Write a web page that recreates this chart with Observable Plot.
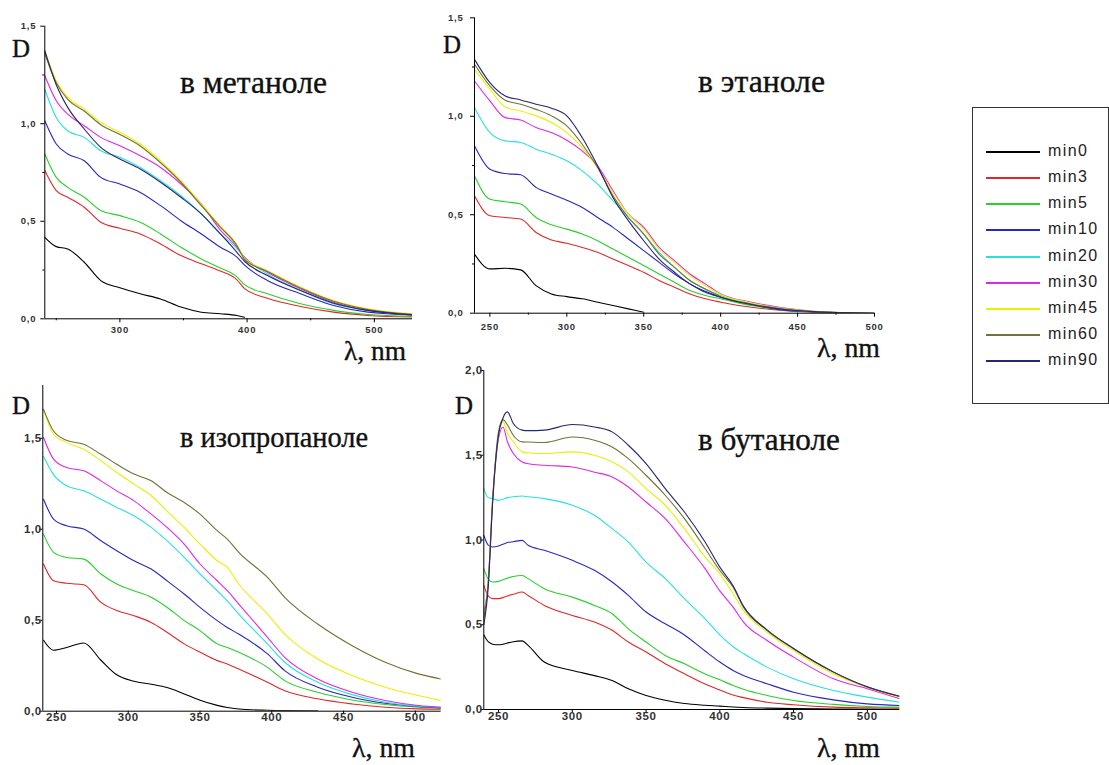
<!DOCTYPE html>
<html><head><meta charset="utf-8">
<script src="https://cdn.jsdelivr.net/npm/d3@7"></script>
<script src="https://cdn.jsdelivr.net/npm/@observablehq/plot@0.6"></script>
<style>
body{margin:0;background:#fff;}
#fig{position:relative;width:1109px;height:765px;overflow:hidden;background:#fff;}
#legend{position:absolute;box-sizing:border-box;border:1.5px solid #333;background:#fff;}
.lrow{position:absolute;left:0;right:0;height:0;}
.lline{position:absolute;height:2px;top:-1px;}
.ltxt{position:absolute;font-family:"Liberation Sans",Arial,sans-serif;font-size:16px;letter-spacing:1.4px;color:#222;line-height:1;transform:translateY(-55%);white-space:nowrap;}
</style></head><body><div id="fig"></div>
<script>
// ---------------- data ----------------
const series = ["min0","min3","min5","min10","min20","min30","min45","min60","min90"];
const colors = ["#000000","#e02828","#28d028","#2828c0","#28e0e0","#e028e0","#eeee00","#727232","#262672"];

// в метаноле
const lamMet = [241,250,259,272,285,300,316,332,348,364,379,392,398,416,442,468,495,530];
const dMet = [
  [0.418,0.37,0.358,0.29,0.196,0.159,0.128,0.102,0.06,0.034,0.026,0.017,0.008,null,null,null,null,null],
  [0.76,0.657,0.623,0.572,0.495,0.464,0.435,0.384,0.324,0.282,0.245,0.20,0.155,0.105,0.063,0.034,0.017,0.009],
  [0.845,0.725,0.674,0.623,0.555,0.529,0.495,0.435,0.367,0.307,0.26,0.215,0.175,0.128,0.077,0.043,0.022,0.012],
  [1.015,0.896,0.845,0.81,0.725,0.691,0.648,0.58,0.503,0.435,0.367,0.316,0.275,0.196,0.128,0.068,0.034,0.02],
  [1.177,1.032,0.964,0.93,0.862,0.828,0.776,0.708,0.631,0.538,0.435,0.36,0.315,0.23,0.145,0.077,0.043,0.02],
  [1.246,1.118,1.049,0.99,0.93,0.887,0.836,0.776,0.691,0.589,0.455,0.367,0.315,0.239,0.154,0.085,0.043,0.02],
  [1.374,1.22,1.135,1.075,1.007,0.956,0.896,0.81,0.708,0.589,0.475,0.38,0.31,0.247,0.162,0.094,0.051,0.025],
  [1.36,1.21,1.125,1.065,0.995,0.945,0.886,0.80,0.70,0.58,0.47,0.375,0.305,0.243,0.158,0.09,0.048,0.023],
  [1.374,1.20,1.084,0.973,0.879,0.819,0.768,0.70,0.623,0.538,0.435,0.341,0.295,0.222,0.145,0.08,0.043,0.02]
];

// в этаноле
const lamEth = [240,250,260,270,280,290,300,310,320,330,340,350,360,370,380,390,400,420,440,460,480,500];
const dEth = [
  [0.30,0.225,0.228,0.22,0.14,0.098,0.084,0.073,0.056,0.039,0.022,0.005,null,null,null,null,null,null,null,null,null,null],
  [0.596,0.495,0.486,0.478,0.41,0.372,0.355,0.334,0.309,0.275,0.242,0.208,0.166,0.132,0.098,0.073,0.056,0.03,0.014,0.005,0.002,null],
  [0.698,0.579,0.566,0.554,0.486,0.449,0.427,0.402,0.368,0.326,0.284,0.242,0.199,0.157,0.115,0.09,0.073,0.039,0.017,0.007,0.002,null],
  [0.85,0.731,0.709,0.703,0.639,0.605,0.574,0.537,0.486,0.436,0.377,0.318,0.258,0.199,0.149,0.106,0.081,0.044,0.017,0.007,0.002,0],
  [1.044,0.917,0.875,0.867,0.833,0.807,0.774,0.723,0.655,0.571,0.486,0.402,0.309,0.233,0.166,0.123,0.09,0.047,0.022,0.008,0.003,0],
  [1.179,1.078,0.993,0.981,0.943,0.917,0.878,0.824,0.748,0.622,0.503,0.436,0.334,0.267,0.199,0.149,0.098,0.056,0.027,0.01,0.003,0],
  [1.238,1.137,1.047,1.027,1.002,0.968,0.917,0.841,0.74,0.613,0.503,0.427,0.326,0.258,0.191,0.14,0.095,0.052,0.025,0.01,0.003,0],
  [1.264,1.154,1.081,1.061,1.035,1.002,0.951,0.858,0.74,0.596,0.486,0.402,0.30,0.233,0.166,0.123,0.084,0.047,0.022,0.008,0.003,0],
  [1.289,1.171,1.103,1.083,1.061,1.041,1.002,0.892,0.748,0.588,0.47,0.368,0.275,0.208,0.149,0.111,0.081,0.044,0.02,0.008,0.003,0]
];

// в изопропаноле (min90 not measured)
const lamIso = [241,248,257,269,281,292,304,316,327,339,350,362,369,377,397,409,432,456,479,502,518];
const dIso = [
  [0.39,0.335,0.35,0.375,0.28,0.2,0.165,0.148,0.13,0.095,0.06,0.032,0.02,0.012,0.005,0.003,0.002,null,null,null,null],
  [0.809,0.717,0.703,0.695,0.598,0.553,0.525,0.488,0.434,0.37,0.324,0.278,0.26,0.232,0.159,0.113,0.068,0.04,0.022,0.013,0.011],
  [0.973,0.873,0.845,0.836,0.754,0.699,0.662,0.626,0.571,0.498,0.443,0.37,0.35,0.324,0.241,0.168,0.104,0.062,0.037,0.022,0.016],
  [1.165,1.056,1.019,1.001,0.937,0.882,0.827,0.781,0.717,0.644,0.571,0.498,0.46,0.424,0.315,0.223,0.132,0.077,0.044,0.026,0.018],
  [1.40,1.30,1.239,1.211,1.165,1.12,1.074,1.01,0.937,0.845,0.754,0.662,0.607,0.534,0.37,0.269,0.159,0.091,0.049,0.027,0.022],
  [1.504,1.385,1.339,1.321,1.266,1.211,1.156,1.083,1.01,0.918,0.809,0.717,0.662,0.589,0.406,0.296,0.177,0.104,0.059,0.031,0.022],
  [1.659,1.522,1.476,1.44,1.376,1.312,1.248,1.184,1.101,1.01,0.918,0.827,0.79,0.699,0.534,0.424,0.287,0.196,0.132,0.086,0.059],
  [1.659,1.54,1.489,1.467,1.412,1.357,1.303,1.266,1.202,1.147,1.083,0.992,0.946,0.873,0.735,0.626,0.479,0.36,0.269,0.205,0.177]
];

// в бутаноле
const lamBut = [240,243,246,250,253,256,260,266,270,281,300,315,327,338,350,363,376,390,400,409,416,432,450,477,500,522];
const dBut = [
  [0.44,0.40,0.385,0.382,0.385,0.392,0.40,0.405,0.378,0.28,0.23,0.20,0.171,0.122,0.083,0.055,0.035,0.025,0.02,0.015,0.012,0.008,0.005,0.003,0.002,0.001],
  [0.732,0.67,0.654,0.654,0.66,0.67,0.68,0.693,0.673,0.614,0.555,0.516,0.467,0.398,0.339,0.27,0.211,0.15,0.115,0.085,0.07,0.043,0.028,0.014,0.01,0.008],
  [0.831,0.77,0.752,0.756,0.765,0.775,0.785,0.791,0.772,0.713,0.663,0.614,0.565,0.476,0.398,0.319,0.27,0.21,0.175,0.142,0.12,0.083,0.053,0.03,0.018,0.014],
  [1.028,0.97,0.959,0.965,0.975,0.985,0.99,0.998,0.969,0.939,0.88,0.821,0.752,0.673,0.575,0.506,0.44,0.345,0.28,0.23,0.2,0.152,0.102,0.057,0.033,0.024],
  [1.303,1.25,1.244,1.234,1.24,1.25,1.255,1.26,1.255,1.244,1.205,1.146,1.067,0.988,0.87,0.772,0.654,0.535,0.44,0.37,0.33,0.25,0.181,0.112,0.073,0.043],
  [0.575,0.75,1.24,1.60,1.667,1.58,1.51,1.46,1.45,1.441,1.431,1.40,1.372,1.313,1.224,1.126,0.988,0.831,0.70,0.604,0.516,0.407,0.309,0.181,0.122,0.063],
  [0.55,0.75,1.24,1.62,1.70,1.63,1.58,1.52,1.515,1.51,1.52,1.50,1.461,1.402,1.303,1.205,1.067,0.90,0.80,0.683,0.585,0.457,0.348,0.21,0.132,0.073],
  [0.54,0.75,1.24,1.64,1.71,1.68,1.618,1.579,1.578,1.575,1.608,1.589,1.549,1.48,1.382,1.264,1.126,0.95,0.82,0.722,0.604,0.467,0.358,0.22,0.132,0.077],
  [0.50,0.72,1.22,1.62,1.72,1.756,1.687,1.648,1.645,1.648,1.681,1.667,1.638,1.559,1.451,1.303,1.165,0.988,0.84,0.73,0.61,0.47,0.36,0.222,0.134,0.078]
];

// tick values
const ticksMetX = [300,400,500], minorMetX = [250,350,450];
const ticksEthX = [250,300,350,400,450,500], minorEthX = [275,325,375,425,475];
const ticksLowX = [250,300,350,400,450,500];
const ticksY15 = [0,0.5,1.0,1.5], minorY15 = [0.25,0.75,1.25];
const ticksY20 = [0,0.5,1.0,1.5,2.0];

// ---------------- drawing ----------------
const fig = document.getElementById("fig");
const fmtY = d => d.toFixed(1).replace(".", ",");

function panel(o) {
  const data = [];
  o.rows.forEach((vals, i) => vals.forEach((v, j) => {
    if (v != null) data.push({lam: o.lam[j], D: v, s: series[i]});
  }));
  const marks = [
    Plot.line(data, {x: "lam", y: "D", z: "s", stroke: "s", strokeWidth: 1.1, curve: "monotone-x", clip: true}),
    Plot.ruleY([o.ydom[0]], {stroke: "#000", strokeWidth: 1}),
    Plot.ruleX([o.xdom[0]], {stroke: "#000", strokeWidth: 1}),
    Plot.axisX(o.xt, {tickSize: o.xts, tickPadding: o.xpad, fontSize: o.fs, fontWeight: o.fw, fill: "#333", stroke: "#000", label: null, tickFormat: d => String(d)}),
    Plot.axisY(o.yt, {tickSize: o.yts, tickPadding: o.ypad, fontSize: o.fs, fontWeight: o.fw, fill: "#333", stroke: "#000", label: null, tickFormat: fmtY})
  ];
  if (o.xminor) marks.push(Plot.axisX(o.xminor, {tickSize: 2, tickFormat: () => "", label: null, stroke: "#000"}));
  if (o.yminor) marks.push(Plot.axisY(o.yminor, {tickSize: 2, tickFormat: () => "", label: null, stroke: "#000"}));
  const p = Plot.plot({
    width: o.width, height: o.height,
    marginLeft: o.ml, marginRight: o.mr, marginTop: o.mt, marginBottom: o.mb,
    x: {domain: o.xdom}, y: {domain: o.ydom},
    color: {domain: series, range: colors},
    style: {fontFamily: "'Liberation Sans', Arial, sans-serif", background: "transparent", overflow: "visible", letterSpacing: o.ls},
    marks
  });
  p.style.position = "absolute";
  p.style.left = o.left + "px";
  p.style.top = o.top + "px";
  fig.appendChild(p);
}

panel({lam: lamMet, rows: dMet, xdom: [241, 530], ydom: [0, 1.5], left: 0, top: 0, width: 420, height: 365,
  ml: 44.3, mr: 8, mt: 25.7, mb: 46.7, xt: ticksMetX, xminor: minorMetX, yt: ticksY15, yminor: minorY15,
  xts: 4, xpad: 3, yts: 4, ypad: 4.5, fs: 9.5, fw: 600, ls: "0.8px"});
panel({lam: lamEth, rows: dEth, xdom: [240, 500], ydom: [0, 1.5], left: 425, top: 0, width: 460, height: 365,
  ml: 49, mr: 11, mt: 17.3, mb: 52.3, xt: ticksEthX, xminor: minorEthX, yt: ticksY15, yminor: minorY15,
  xts: 4, xpad: 6, yts: 4, ypad: 7, fs: 9.5, fw: 600, ls: "0.8px"});
panel({lam: lamIso, rows: dIso, xdom: [240.5, 518], ydom: [0, 1.79], left: 0, top: 375, width: 450, height: 390,
  ml: 42.3, mr: 9.3, mt: 10, mb: 54.3, xt: ticksLowX, yt: ticksY15,
  xts: 3, xpad: -1, yts: 3, ypad: -2, fs: 11.5, fw: 700, ls: "0.6px"});
panel({lam: lamBut, rows: dBut, xdom: [240, 522], ydom: [0, 2.0], left: 445, top: 360, width: 465, height: 405,
  ml: 38.3, mr: 10.7, mt: 10, mb: 56, xt: ticksLowX, yt: ticksY20,
  xts: 3, xpad: -1, yts: 3, ypad: -2, fs: 11.5, fw: 700, ls: "0.6px"});

// ---------------- text labels ----------------
const ctx = document.createElement("canvas").getContext("2d");
const serif = "'Liberation Serif', 'Times New Roman', serif";
function fitSize(t, w) { ctx.font = "100px " + serif; return 100 * w / ctx.measureText(t).width; }
const labels = [
  ["D", 12, 57, 18], ["в метаноле", 180, 93, 147], ["λ, nm", 344, 359.5, 62],
  ["D", 443, 53, 18], ["в этаноле", 698, 92, 127], ["λ, nm", 817, 357, 63],
  ["D", 12, 414, 18], ["в изопропаноле", 180, 447, 188], ["λ, nm", 352, 757, 63],
  ["D", 455, 414, 18], ["в бутаноле", 698, 450, 142], ["λ, nm", 817, 757, 63]
];
const ns = "http://www.w3.org/2000/svg";
const ov = document.createElementNS(ns, "svg");
ov.setAttribute("width", 1109); ov.setAttribute("height", 765);
ov.style.position = "absolute"; ov.style.left = "0"; ov.style.top = "0"; ov.style.pointerEvents = "none";
for (const [t, x, y, w] of labels) {
  const el = document.createElementNS(ns, "text");
  el.setAttribute("x", x); el.setAttribute("y", y);
  el.setAttribute("font-family", serif);
  el.setAttribute("font-size", fitSize(t, w).toFixed(2));
  el.setAttribute("fill", "#111");
  el.setAttribute("stroke", "#111");
  el.setAttribute("stroke-width", "0.35");
  el.textContent = t;
  ov.appendChild(el);
}
fig.appendChild(ov);

// ---------------- legend ----------------
const lg = document.createElement("div");
lg.id = "legend";
Object.assign(lg.style, {left: "972px", top: "107px", width: "137px", height: "297px"});
series.forEach((s, i) => {
  const row = document.createElement("div");
  row.className = "lrow";
  row.style.top = (43.7 + i * 26.2) + "px";
  const ln = document.createElement("div");
  ln.className = "lline";
  Object.assign(ln.style, {left: "13px", width: "54px", backgroundColor: colors[i]});
  const tx = document.createElement("div");
  tx.className = "ltxt";
  tx.style.left = "75px";
  tx.textContent = s;
  row.appendChild(ln); row.appendChild(tx);
  lg.appendChild(row);
});
fig.appendChild(lg);
</script></body></html>
